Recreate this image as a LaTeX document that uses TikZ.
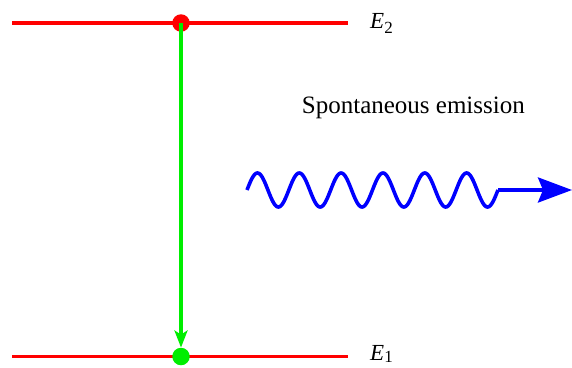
\documentclass[tikz,border=0pt]{standalone}
\usepackage{fontspec}
\setmainfont{Liberation Serif}
\usetikzlibrary{arrows.meta}
\definecolor{lvred}{HTML}{FF0000}
\definecolor{lvgreen}{HTML}{00EE00}
\definecolor{phblue}{HTML}{0000FF}

\begin{document}
\begin{tikzpicture}[x=1pt, y=-1pt,
  font=\rmfamily\fontsize{25}{30}\selectfont,
  level/.style={draw=lvred, line width=3.3pt},
  dot/.style={circle, inner sep=0pt, minimum size=17.5pt},
  lvlbl/.style={anchor=base west, inner sep=0pt, font=\rmfamily\fontsize{23}{26}\selectfont},
  decay/.style={-{Stealth[length=17pt, width=13pt, inset=4pt]}, draw=lvgreen, line width=3.3pt},
  wave/.style={draw=phblue, line width=3.6pt, line join=round},
  ray/.style={-{Stealth[length=34pt, width=25pt, inset=5pt]}, draw=phblue, line width=3.6pt}
]
\useasboundingbox (0,0) rectangle (572,367);
% ================= energy levels =================
\coordinate (e2l) at (12,23);
\coordinate (e2r) at (348,23);
\coordinate (e1l) at (12,356.5);
\coordinate (e1r) at (348,356.5);
\draw[level] (e2l) -- (e2r);
\draw[level] (e1l) -- (e1r);
\node[lvlbl] (e2lbl) at (370,28.5) {\textit{E}\raisebox{-4.5pt}{\fontsize{17}{17}\selectfont 2}};
\node[lvlbl] (e1lbl) at (370,360) {\textit{E}\raisebox{-2.5pt}{\fontsize{17}{17}\selectfont 1}};
% ================= transition =================
\node[dot, fill=lvred] (up) at (181,23) {};
\node[dot] (down) at (181,356.5) {};
\draw[decay] (up.center) -- (down.north);
\node[dot, fill=lvgreen] at (down) {};
% ================= emitted photon =================
\node[anchor=base west, inner sep=0pt] (emis) at (301.7,113.3) {Spontaneous emission};
\coordinate (wavein) at (247,190);
\coordinate (waveout) at (498,190);
\coordinate (raytip) at (572,190);
\draw[wave] plot[domain=0:251, samples=300, smooth] ({247+\x}, {190-17*sin(\x/41.83*360)});
\draw[ray] (waveout) -- (raytip);
\end{tikzpicture}
\end{document}
